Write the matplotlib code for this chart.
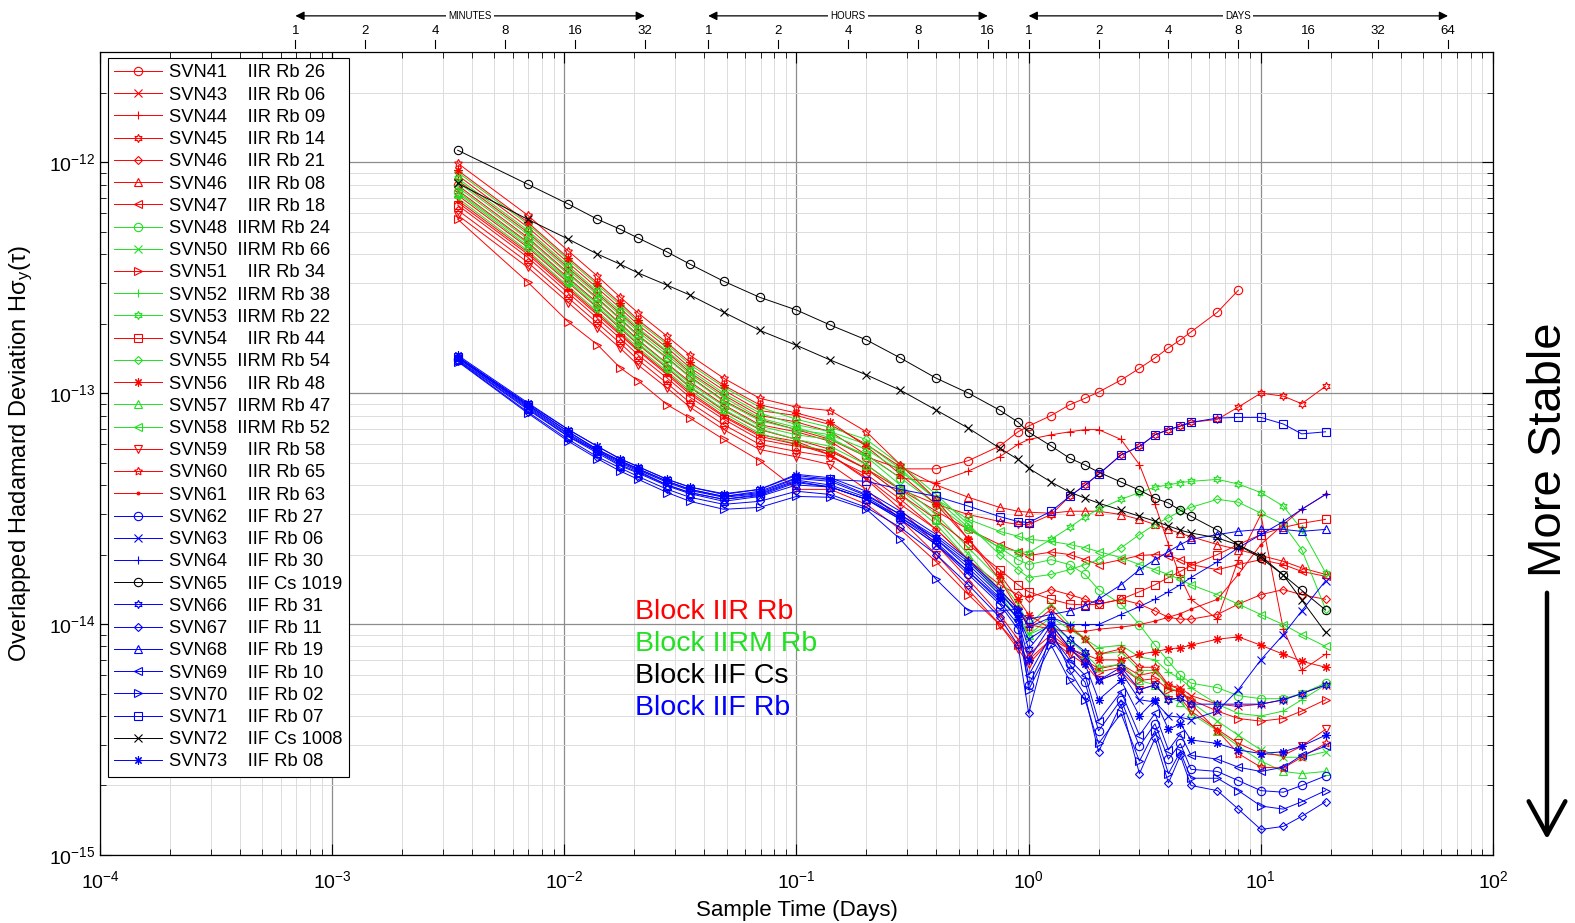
import numpy as np
import matplotlib
matplotlib.use('Agg')
import matplotlib.pyplot as plt
from matplotlib.patches import FancyArrowPatch

plt.rcParams['font.family'] = ['Liberation Sans', 'DejaVu Sans']
plt.rcParams['mathtext.fontset'] = 'custom'
plt.rcParams['mathtext.rm'] = 'Liberation Sans'
plt.rcParams['mathtext.it'] = 'Liberation Sans:italic'

nan = np.nan

# sample times (days)
tau_days = [0.003472, 0.006944, 0.01042, 0.01389, 0.01736, 0.02083, 0.02778, 0.03472,
            0.0486, 0.0694, 0.1, 0.14, 0.2, 0.28, 0.4, 0.55, 0.75, 0.9, 1.0, 1.25, 1.5,
            1.75, 2.0, 2.5, 3.0, 3.5, 4.0, 4.5, 5.0, 6.5, 8.0, 10.0, 12.5, 15.0, 19.0]

# Hadamard deviation values, in units of 1e-15
svn41 = [795, 473, 331, 258, 211, 178, 142, 118, 93, 77, 69.5, 63, 53, 47, 47, 51, 59, 68, 72, 80,
         89, 95, 101, 114, 128, 142, 157, 170, 184, 224, 279, nan, nan, nan, nan]
svn43 = [685, 408, 285, 222, 182, 154, 122, 101, 80, 66, 61.8, 54, 42.3, 31.4, 22.1, 15.6, 11.0, 8.6,
         7.4, 9.0, 7.8, 7.0, 6.4, 6.7, 6.0, 6.2, 5.45, 5.3, 4.9, 4.5, 4.4, 4.5, 4.7, 5.0, 5.45]
svn44 = [836, 498, 348, 271, 222, 188, 150, 123, 98, 80, 75, 68, 54, 43, 41, 46, 53, 60, 63, 66,
         68, 69.5, 69.5, 63, 49, 33, 22.1, 16, 12.8, 10.5, 19.0, 29.8, 9.5, 6.3, 7.4]
svn45 = [720, 428, 300, 234, 191, 162, 128, 106, 84, 69.5, 63, 57, 47, 38.3, 33, 29.8, 27.8, 27, 27,
         29.8, 35.7, 40, 44.5, 54, 58.8, 66, 69.5, 72, 74.7, 77, 87, 100, 97, 90, 107]
svn46a = [620, 369, 258, 201, 165, 139, 110, 91, 73, 60, 55.9, 53, 44.5, 34.7, 25.7, 19.0, 14.8, 13.4,
          13.0, 14.1, 13.4, 12.8, 12.2, 12.8, 12.2, 11.4, 10.7, 10.5, 10.5, 11.0, 12.2, 13.4, 14.1, 13.4, 12.8]
svn46b = [878, 524, 366, 285, 234, 197, 157, 129, 103, 84, 80, 73, 60, 48, 40, 35.4, 32, 30.8, 30.5,
          30.2, 30.8, 30.8, 30.8, 29.8, 28.4, 27, 25.7, 24.7, 23.9, 22.1, 21.0, 19.8, 18.7, 17.5, 16.4]
svn47 = [757, 451, 315, 246, 201, 170, 134, 112, 89, 73, 68, 61.8, 49, 38.3, 30.8, 25.7, 22.1, 20.5,
         19.8, 20.5, 20.0, 19.0, 18.1, 19.0, 19.8, 20.0, 19.8, 19.0, 18.1, 17.2, 18.1, 19.0, 18.1, 16.9, 16.1]
svn48 = [745, 445, 310, 243, 199, 168, 133, 110, 88, 72, 66, 63, 54, 43, 33, 25.7, 21.4, 19.0, 18.1,
         19.0, 18.1, 16.4, 14.1, 12.2, 9.95, 8.1, 6.9, 6.0, 5.55, 5.3, 4.9, 4.75, 4.75, 5.0, 5.55]
svn50 = [820, 488, 341, 266, 218, 184, 146, 121, 96, 78, 71, 64, 53, 40, 29.8, 21.4, 15.6, 12.2, 9.95,
         12.2, 9.95, 8.6, 7.4, 7.6, 6.3, 6.3, 5.3, 5.1, 4.6, 3.8, 3.3, 2.85, 2.65, 2.65, 2.8]
svn51 = [566, 303, 203, 162, 129, 113, 89, 78, 63, 51, 38.3, 38.3, 33, 25.7, 18.6, 13.4, 9.95, 8.1,
         7.0, 8.6, 7.8, 6.9, 6.2, 6.5, 5.7, 5.8, 5.2, 5.1, 4.7, 4.2, 3.9, 3.8, 3.9, 4.2, 4.7]
svn52 = [700, 415, 290, 226, 185, 157, 124, 103, 82, 67, 60, 55.9, 47, 36.4, 27, 19.0, 13.4, 10.5,
         9.0, 10.7, 9.5, 8.6, 7.9, 8.1, 7.2, 7.0, 6.2, 5.8, 5.3, 4.5, 4.1, 4.0, 4.2, 4.7, 5.45]
svn53 = [853, 508, 355, 276, 227, 191, 152, 126, 100, 82, 73, 68, 60, 47, 34.7, 26.2, 21.4, 20.6,
         20.4, 23.3, 26.2, 29.2, 31.4, 34.7, 37.1, 39.2, 40, 41, 41.5, 42.3, 40.4, 37.1, 32.4, 25.7, 16.7]
svn54 = [652, 388, 271, 211, 173, 146, 116, 96, 77, 63, 58.8, 56, 47, 36.4, 28.4, 22.1, 17.2, 14.8,
         13.8, 12.8, 12.2, 12.1, 12.2, 12.8, 13.8, 14.8, 15.9, 16.9, 17.9, 20.0, 22.1, 24.4, 26.2, 27.3, 28.4]
svn55 = [905, 540, 377, 294, 241, 203, 162, 133, 106, 87, 77, 71, 63, 49, 36.4, 27, 20.0, 17.2, 15.9,
         16.4, 17.2, 18.1, 19.0, 21.4, 24.4, 27, 28.9, 30.8, 32, 34.7, 33.7, 30.2, 27, 21.0, 11.6]
svn56 = [923, 550, 384, 300, 246, 207, 165, 136, 108, 89, 82, 75, 58.8, 44.5, 33, 23.3, 16.4, 12.8,
         11.0, 9.5, 7.8, 7.4, 7.0, 7.0, 7.4, 7.6, 7.8, 7.9, 8.1, 8.6, 8.8, 8.1, 7.4, 6.9, 6.5]
svn57 = [735, 435, 305, 237, 194, 164, 130, 107, 85, 70, 63, 58.8, 49, 38.3, 28.4, 20.0, 14.1, 11.0,
         9.0, 9.95, 8.6, 7.4, 6.5, 6.7, 5.7, 5.45, 4.8, 4.6, 4.1, 3.45, 2.96, 2.55, 2.3, 2.25, 2.3]
svn58 = [780, 465, 326, 255, 209, 176, 141, 117, 92, 76, 69.5, 66, 57, 46, 34.7, 28.4, 25.2, 24,
         23.3, 22.8, 22.1, 21.4, 20.6, 19.4, 18.1, 17.2, 16.4, 15.6, 14.8, 13.4, 12.2, 11.0, 9.95, 9.0, 8.0]
svn59 = [590, 351, 246, 191, 157, 132, 105, 87, 69.5, 57, 53, 49, 38.3, 28.4, 20.0, 14.1, 9.95, 7.8,
         6.7, 8.6, 7.4, 6.7, 5.7, 6.2, 5.2, 5.45, 4.7, 4.8, 4.2, 3.5, 3.04, 2.75, 2.7, 2.96, 3.5]
svn60 = [990, 590, 412, 321, 261, 222, 176, 146, 116, 95, 87, 84, 68, 49, 34.7, 23.3, 15.6, 11.6,
         9.7, 11.6, 9.7, 8.6, 7.4, 7.8, 6.5, 6.5, 5.45, 5.2, 4.5, 3.45, 2.75, 2.4, 2.38, 2.65, 3.04]
svn61 = [670, 400, 280, 218, 179, 152, 120, 99, 79, 65, 60, 54, 43, 33, 25.7, 19.0, 14.1, 11.6,
         9.95, 9.5, 9.3, 9.3, 9.5, 9.7, 9.95, 10.3, 10.7, 11.1, 11.6, 12.8, 16.4, 22.1, 27, 31.4, 36.4]
svn62 = [140, 86, 65, 55.9, 49, 45.5, 40, 37.1, 34.7, 36, 41, 39.2, 34.7, 28.4, 22.1, 16.4, 12.2, 9.5,
         5.45, 8.6, 6.7, 5.6, 3.45, 4.7, 2.96, 3.7, 2.6, 3.04, 2.35, 2.3, 2.1, 1.9, 1.87, 2.0, 2.2]
svn63 = [142, 87, 66, 55.9, 49.9, 46, 40, 37.1, 34.7, 36.4, 41.5, 39.2, 34.7, 28.4, 22.1, 16.9, 12.8,
         10.7, 8.6, 9.95, 7.9, 7.2, 5.7, 6.2, 4.7, 4.6, 4.0, 3.95, 3.85, 4.2, 5.2, 7.0, 9.0, 11.4, 15.4]
svn64 = [144, 90, 69.5, 58.8, 52, 48, 42.3, 39.2, 36.4, 38.3, 44.5, 43, 37.6, 30.8, 24.4, 19.0, 14.1,
         11.6, 9.7, 10.7, 9.95, 9.95, 9.95, 11.0, 11.9, 12.8, 13.8, 14.8, 15.9, 18.6, 21.4, 24.4, 27.8, 31.4, 36.4]
svn65 = [1127, 803, 658, 566, 513, 469, 408, 362, 305, 260, 229, 197, 170, 142, 116, 100, 84.4, 74.9,
         67.8, 59.0, 52.3, 48.8, 45.5, 41.2, 38.0, 35.1, 33.4, 31.1, 29.3, 25.5, 22.0, 19.3, 16.3, 14.0, 11.5]
svn66 = [144, 89, 68, 57, 51, 47, 41.5, 38.3, 35.7, 37.1, 42.7, 41.5, 36, 29.8, 23.8, 18.6, 13.8, 11.0,
         7.8, 10.3, 8.6, 7.6, 5.7, 6.5, 5.2, 5.45, 4.7, 4.8, 4.5, 4.5, 4.5, 4.5, 4.7, 5.0, 5.45]
svn67 = [138, 83, 63, 53, 47.5, 43.5, 38.3, 35.4, 33, 34, 37.6, 36.4, 32, 26.2, 20.0, 14.8, 10.7, 8.1,
         4.1, 9.5, 6.3, 4.9, 2.8, 4.5, 2.25, 3.2, 2.05, 2.7, 2.0, 1.9, 1.58, 1.29, 1.33, 1.47, 1.7]
svn68 = [139, 85, 64.7, 55, 48.5, 45, 39.6, 36.7, 34, 35.7, 40, 39.2, 34.7, 29, 23.3, 18.1, 13.4, 11.4,
         10.5, 11.0, 11.4, 12.0, 12.8, 14.8, 17.2, 19.0, 20.6, 22.1, 23.3, 24.4, 25.2, 25.7, 25.7, 25.2, 25.7]
svn69 = [142, 88, 66.7, 56.5, 50.5, 46.5, 41, 37.9, 35.4, 36.7, 42, 40, 35.4, 29, 22.6, 16.9, 12.5, 9.95,
         6.0, 9.0, 7.0, 6.0, 3.8, 5.1, 3.3, 4.1, 2.85, 3.35, 2.7, 2.6, 2.4, 2.3, 2.4, 2.7, 2.96]
svn70 = [137, 82, 61.8, 52, 46, 42.3, 37.1, 34, 31.4, 32, 35.7, 35.4, 31.4, 23.3, 15.6, 11.4, 11.4, 11.6,
         5.2, 8.1, 5.7, 4.7, 3.04, 4.1, 2.55, 3.45, 2.25, 2.8, 2.15, 2.15, 1.9, 1.63, 1.58, 1.7, 1.9]
svn71 = [143, 89, 68, 57, 51, 47, 41.5, 38.3, 35.7, 37.6, 43, 42.3, 41.5, 38.3, 35.7, 32.4, 29.2, 27.8,
         27.5, 30.8, 35.7, 40, 44.5, 54, 58.8, 66, 69.5, 72, 74.7, 78, 78.5, 78.5, 73.5, 66.6, 68]
svn72 = [811, 566, 464, 400, 362, 331, 293, 266, 224, 187, 161, 139, 120, 103, 84.4, 70.5, 57.8, 51.6,
         47.3, 41.2, 37.3, 35.1, 33.4, 31.1, 29.3, 27.9, 26.6, 25.5, 24.8, 23.6, 22.0, 19.7, 16.3, 12.7, 9.2]
svn73 = [146, 91, 69.5, 58.8, 52, 48, 42.3, 39.2, 36.7, 38.3, 44, 42.3, 36.4, 29.8, 23.3, 17.5, 13.0,
         10.5, 7.0, 9.95, 7.9, 6.7, 4.7, 5.7, 4.0, 4.7, 3.5, 3.7, 3.15, 3.04, 2.85, 2.75, 2.8, 2.96, 3.3]

RED = '#ff0000'
GREEN = '#22e022'
BLUE = '#0000ff'
BLACK = '#000000'

HEXAGRAM = (6, 1, 0)
PENTAGRAM = (5, 1, 0)
ASTERISK = (8, 2, 0)

# label, color, marker, data
series = [
    ('SVN41    IIR Rb 26', RED, 'o', svn41),
    ('SVN43    IIR Rb 06', RED, 'x', svn43),
    ('SVN44    IIR Rb 09', RED, '+', svn44),
    ('SVN45    IIR Rb 14', RED, HEXAGRAM, svn45),
    ('SVN46    IIR Rb 21', RED, 'D', svn46a),
    ('SVN46    IIR Rb 08', RED, '^', svn46b),
    ('SVN47    IIR Rb 18', RED, '<', svn47),
    ('SVN48  IIRM Rb 24', GREEN, 'o', svn48),
    ('SVN50  IIRM Rb 66', GREEN, 'x', svn50),
    ('SVN51    IIR Rb 34', RED, '>', svn51),
    ('SVN52  IIRM Rb 38', GREEN, '+', svn52),
    ('SVN53  IIRM Rb 22', GREEN, HEXAGRAM, svn53),
    ('SVN54    IIR Rb 44', RED, 's', svn54),
    ('SVN55  IIRM Rb 54', GREEN, 'D', svn55),
    ('SVN56    IIR Rb 48', RED, ASTERISK, svn56),
    ('SVN57  IIRM Rb 47', GREEN, '^', svn57),
    ('SVN58  IIRM Rb 52', GREEN, '<', svn58),
    ('SVN59    IIR Rb 58', RED, 'v', svn59),
    ('SVN60    IIR Rb 65', RED, PENTAGRAM, svn60),
    ('SVN61    IIR Rb 63', RED, '.', svn61),
    ('SVN62    IIF Rb 27', BLUE, 'o', svn62),
    ('SVN63    IIF Rb 06', BLUE, 'x', svn63),
    ('SVN64    IIF Rb 30', BLUE, '+', svn64),
    ('SVN65    IIF Cs 1019', BLACK, 'o', svn65),
    ('SVN66    IIF Rb 31', BLUE, HEXAGRAM, svn66),
    ('SVN67    IIF Rb 11', BLUE, 'D', svn67),
    ('SVN68    IIF Rb 19', BLUE, '^', svn68),
    ('SVN69    IIF Rb 10', BLUE, '<', svn69),
    ('SVN70    IIF Rb 02', BLUE, '>', svn70),
    ('SVN71    IIF Rb 07', BLUE, 's', svn71),
    ('SVN72    IIF Cs 1008', BLACK, 'x', svn72),
    ('SVN73    IIF Rb 08', BLUE, ASTERISK, svn73),
]

W, H = 1575, 923
fig = plt.figure(figsize=(W / 100, H / 100), dpi=100)
ax = fig.add_axes([100 / W, 68 / H, 1393 / W, 803 / H])

tau = np.array(tau_days)
for label, color, marker, vals in series:
    y = np.array(vals, dtype=float) * 1e-15
    ms = 6
    if marker == 'D':
        ms = 4.5
    elif marker == '.':
        ms = 4
    face = color if marker == '.' else 'none'
    ax.plot(tau, y, color=color, marker=marker, markersize=ms, markerfacecolor=face,
            markeredgewidth=0.8, linewidth=0.7, label=label)

ax.set_xscale('log')
ax.set_yscale('log')
ax.set_xlim(1e-4, 1e2)
ax.set_ylim(1e-15, 3e-12)
ax.set_axisbelow(True)
ax.grid(True, which='major', color='#8c8c8c', linewidth=0.9)
ax.grid(True, which='minor', color='#dcdcdc', linewidth=0.7)
ax.tick_params(which='both', direction='in', top=True, right=True, labelsize=14)
ax.tick_params(which='major', length=8)
ax.tick_params(which='minor', length=4)
ax.tick_params(axis='x', which='major', pad=11)
for sp in ax.spines.values():
    sp.set_linewidth(0.9)

ax.set_xlabel('Sample Time (Days)', fontsize=16)
ax.xaxis.set_label_coords(0.5, -0.056)
ax.set_ylabel('Overlapped Hadamard Deviation H\u03c3$_{\\mathregular{y}}$(\u03c4)', fontsize=17)
ax.yaxis.set_label_coords(-0.047, 0.5)

leg = ax.legend(loc='upper left', bbox_to_anchor=(0.0057, 0.9925), borderaxespad=0,
                fontsize=13.2, frameon=True, fancybox=False, edgecolor='black',
                framealpha=1, labelspacing=0.285, handlelength=2.6, handletextpad=0.4,
                borderpad=0.35)
leg.get_frame().set_linewidth(0.8)

# secondary time scale above the plot
trans = ax.get_xaxis_transform()
minutes = [1, 2, 4, 8, 16, 32]
hours = [1, 2, 4, 8, 16]
days = [1, 2, 4, 8, 16, 32, 64]
scales = [
    ('MINUTES', minutes, 1440.0, 32),
    ('HOURS', hours, 24.0, 16),
    ('DAYS', days, 1.0, 64),
]
for name, ticks, per_day, top in scales:
    for n in ticks:
        x = n / per_day
        ax.plot([x, x], [1.005, 1.015], transform=trans, color='k', lw=0.8, clip_on=False)
        ax.text(x, 1.019, str(n), transform=trans, ha='center', va='bottom', fontsize=9.5)
    x0, x1 = 1 / per_day, top / per_day
    ax.annotate('', xy=(x1, 1.045), xytext=(x0, 1.045), xycoords=trans, textcoords=trans,
                arrowprops=dict(arrowstyle='<|-|>', color='k', lw=0.9, mutation_scale=13,
                                shrinkA=0, shrinkB=0), annotation_clip=False)
    ax.text(np.sqrt(x0 * x1), 1.045, name, transform=trans, ha='center', va='center',
            fontsize=7, bbox=dict(facecolor='white', edgecolor='none', pad=1.5))

# block annotations
blocks = [('Block IIR Rb', RED), ('Block IIRM Rb', GREEN), ('Block IIF Cs', BLACK), ('Block IIF Rb', BLUE)]
for i, (txt, color) in enumerate(blocks):
    fig.text(635 / W, 1 - (612 + 32 * i) / H, txt, color=color, fontsize=20.5, ha='left', va='center')

fig.text(1549 / W, 1 - 450 / H, 'More Stable', rotation=90, fontsize=34, ha='center', va='center')
arrow = FancyArrowPatch((1547 / W, 1 - 590 / H), (1547 / W, 1 - 842 / H), transform=fig.transFigure,
                        arrowstyle='->,head_length=0.6,head_width=0.33', mutation_scale=40,
                        lw=3.2, color='k')
fig.add_artist(arrow)

fig.savefig('out.png', dpi=100)
